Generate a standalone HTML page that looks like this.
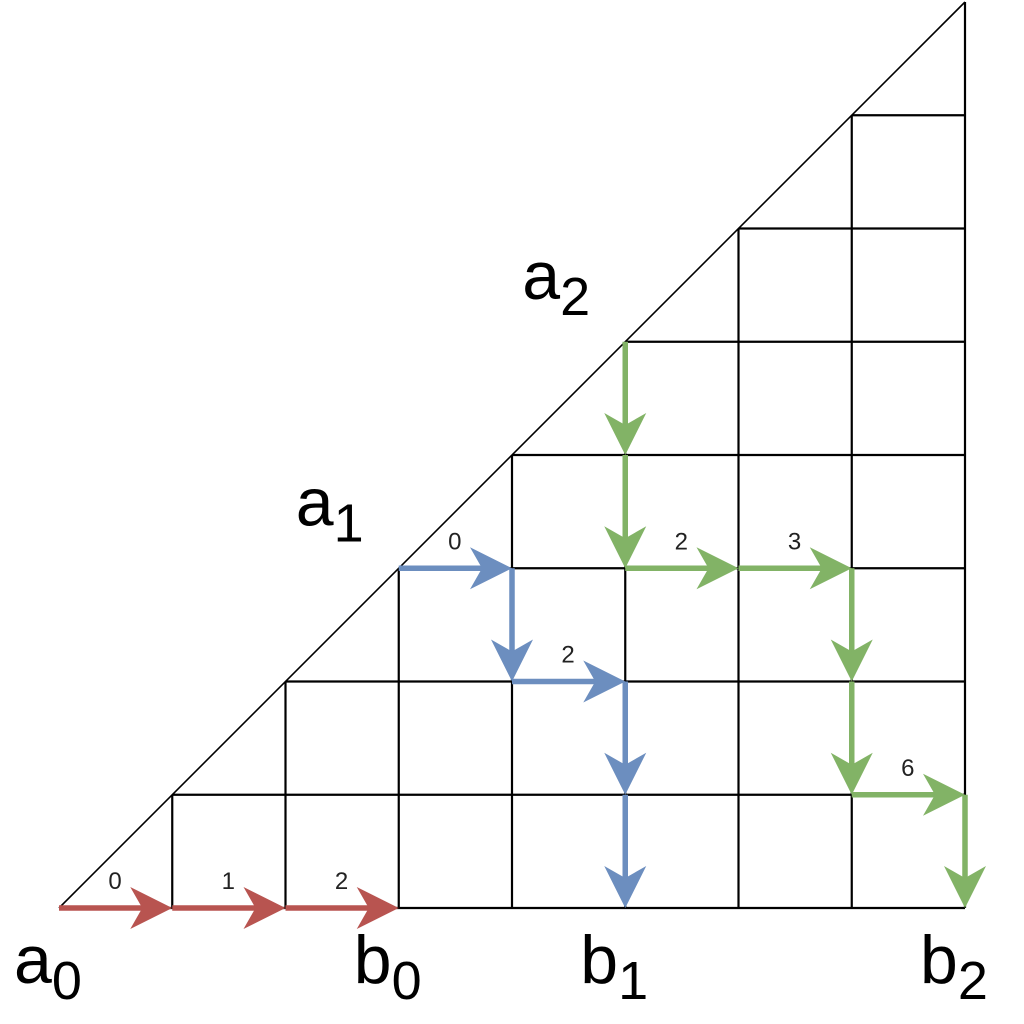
<!DOCTYPE html>
<html><head><meta charset="utf-8"><style>
html,body{margin:0;padding:0;background:#fff;}
svg{display:block;}
text{font-family:"Liberation Sans","DejaVu Sans",sans-serif;}
</style></head><body>
<svg id="chart" width="1024" height="1024" viewBox="0 0 1024 1024" xmlns="http://www.w3.org/2000/svg">
<g id="grid"></g>
<g id="arrows"></g>
<g id="labels"></g>
</svg>
<script>
const gridN = 8;
const redPath = [[0,0],[1,0],[2,0],[3,0]];
const redLabels = ["0","1","2"];
const bluePath = [[3,3],[4,3],[4,2],[5,2],[5,1],[5,0]];
const blueLabels = ["0","","2","",""];
const greenPath = [[5,5],[5,4],[5,3],[6,3],[7,3],[7,2],[7,1],[8,1],[8,0]];
const greenLabels = ["","","2","3","","","6",""];
const pointNames = ["a","a","a","b","b","b"];
const pointSubs = ["0","1","2","0","1","2"];
const pointGrid = [[0,0],[3,3],[5,5],[3,0],[5,0],[8,0]];

const X0=59, Y0=908, CW=113.25;
const sx = i => X0 + i*CW;
const sy = j => Y0 - j*CW;
const NS="http://www.w3.org/2000/svg";
function mk(tag, attrs, parent){const e=document.createElementNS(NS,tag);for(const k in attrs)e.setAttribute(k,attrs[k]);parent.appendChild(e);return e;}
const grid=document.getElementById('grid');
for(let r=0;r<gridN;r++){
  const l=mk('line',{x1:sx(r),y1:sy(r),x2:sx(gridN),y2:sy(r),stroke:'#000','stroke-width':2.2},grid);
  
  
}
for(let c=1;c<=gridN;c++){
  const l=mk('line',{x1:sx(c),y1:sy(c),x2:sx(c),y2:sy(0),stroke:'#000','stroke-width':2.2},grid);
  
  
}
const d=mk('line',{x1:sx(0),y1:sy(0),x2:sx(gridN),y2:sy(gridN),stroke:'#000','stroke-width':1.6},grid);



const arrows=document.getElementById('arrows');
function drawPath(pts, labels, color, name){
  const g=mk('g',{},arrows);
  
  
  for(let k=0;k<pts.length-1;k++){
    const x1=sx(pts[k][0]),y1=sy(pts[k][1]),x2=sx(pts[k+1][0]),y2=sy(pts[k+1][1]);
    const dx=x2-x1,dy=y2-y1,L=Math.hypot(dx,dy),ux=dx/L,uy=dy/L,px=-uy,py=ux;
    const ln=mk('line',{x1:x1,y1:y1,x2:x2-ux*20,y2:y2-uy*20,stroke:color,'stroke-width':5.5},g);
    
    
    const bx=x2-ux*42,by=y2-uy*42,nx=x2-ux*30,ny=y2-uy*30;
    const head=mk('polygon',{points:`${x2},${y2} ${bx+px*21},${by+py*21} ${nx},${ny} ${bx-px*21},${by-py*21}`,fill:color},g);
    
    
    if(labels[k]){
      const t=mk('text',{x:x1+56,y:y1-19,'font-size':24,fill:'#222','text-anchor':'middle'},g);
      t.textContent=labels[k];
      
      
    }
  }
}
drawPath(redPath,redLabels,'#b85450','red-path');
drawPath(bluePath,blueLabels,'#6c8ebf','blue-path');
drawPath(greenPath,greenLabels,'#82b366','green-path');

const labels=document.getElementById('labels');
for(let k=0;k<pointNames.length;k++){
  const [i,j]=pointGrid[k];
  let x,y;
  if(j===0){x=sx(i)-45;y=sy(0)+75;}
  else{x=sx(i)-103;y=sy(j)-43;}
  const t=mk('text',{x:x,y:y,'font-size':68,fill:'#000'},labels);
  t.textContent=pointNames[k];
  const s=mk('tspan',{dy:16,'font-size':54},t);
  s.textContent=pointSubs[k];
  
  
}
</script>
</body></html>
